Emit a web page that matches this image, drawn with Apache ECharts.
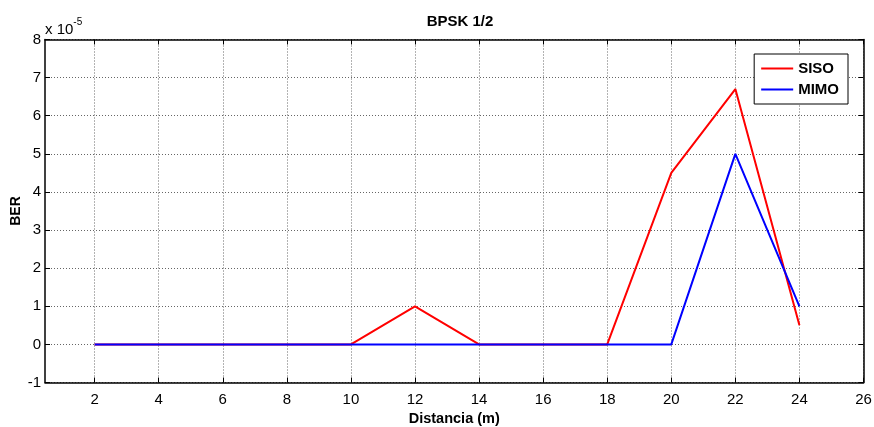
<!DOCTYPE html>
<html><head><meta charset="utf-8">
<script src="https://cdn.jsdelivr.net/npm/echarts@6/dist/echarts.min.js"></script>
<style>html,body{margin:0;padding:0;background:#fff}#c{width:874px;height:427px}</style>
</head><body><div id="c"></div>
<script>
const distances = [2,4,6,8,10,12,14,16,18,20,22,24];
const sisoBER = [0,0,0,0,0,1,0,0,0,4.5,6.7,0.5];   // x 10^-5
const mimoBER = [0,0,0,0,0,0,0,0,0,0,5,1];         // x 10^-5
const xTicks = [2,4,6,8,10,12,14,16,18,20,22,24,26];

const F = 'Liberation Sans, Arial, sans-serif';
const chart = echarts.init(document.getElementById('c'));
const gridLine = {show:true, lineStyle:{color:'#666', type:[1,2], width:1}};
chart.setOption({
  animation:false,
  title:{text:'BPSK 1/2', left:455, top:9, textAlign:'center',
    textStyle:{fontFamily:F, fontSize:15, fontWeight:'bold', color:'#000'}},
  grid:{left:45, right:10.5, top:39.5, bottom:44.5, show:false, containLabel:false, outerBoundsMode:'none'},
  legend:{right:26, top:54, orient:'vertical', itemWidth:32, itemHeight:2, itemGap:6,
    padding:[7,9,7,7], borderColor:'#000', borderWidth:1, backgroundColor:'#fff',
    icon:'rect',
    textStyle:{fontFamily:F, fontSize:15, fontWeight:'bold', color:'#000'},
    data:['SISO','MIMO']},
  xAxis:[{type:'value', min:0.45, max:26, name:'Distancia (m)', nameLocation:'middle', nameGap:29,
    nameMoveOverlap:false,
    nameTextStyle:{fontFamily:F, fontSize:14.5, fontWeight:'bold', color:'#000'},
    axisLine:{show:true, onZero:false, lineStyle:{color:'#000', width:1.5}},
    axisTick:{show:true, inside:true, length:5, customValues:xTicks, lineStyle:{color:'#000'}},
    axisLabel:{customValues:xTicks, fontFamily:F, fontSize:15, color:'#000', margin:10},
    splitLine:gridLine},
   {type:'value', position:'top', min:0.45, max:26,
    axisLine:{show:true, onZero:false, lineStyle:{color:'#000', width:1.5}},
    axisTick:{show:true, inside:true, length:5, customValues:xTicks, lineStyle:{color:'#000'}},
    axisLabel:{show:false}, splitLine:{show:false}}],
  yAxis:[{type:'value', min:-1, max:8, interval:1, name:'BER', nameLocation:'middle', nameGap:22,
    nameMoveOverlap:false,
    nameTextStyle:{fontFamily:F, fontSize:14, fontWeight:'bold', color:'#000'},
    axisLine:{show:true, onZero:false, lineStyle:{color:'#000', width:1.5}},
    axisTick:{show:true, inside:true, length:5, lineStyle:{color:'#000'}},
    axisLabel:{fontFamily:F, fontSize:15, color:'#000', margin:4},
    splitLine:gridLine},
   {type:'value', position:'right', min:-1, max:8, interval:1,
    axisLine:{show:true, onZero:false, lineStyle:{color:'#000', width:1.5}},
    axisTick:{show:true, inside:true, length:5, lineStyle:{color:'#000'}},
    axisLabel:{show:false}, splitLine:{show:false}}],
  graphic:[{type:'text', left:45, top:17, style:{text:'{a|x 10}{b|-5}', rich:{
    a:{fontFamily:F, fontSize:15, fill:'#000', verticalAlign:'bottom'},
    b:{fontFamily:F, fontSize:10, fill:'#000', verticalAlign:'top', padding:[0,0,10,0]}}}}],
  series:[
    {name:'SISO', type:'line', showSymbol:false, symbol:'none', color:'#ff0000',
     lineStyle:{width:2, color:'#ff0000'}, data:distances.map((d,i)=>[d,sisoBER[i]]), z:3},
    {name:'MIMO', type:'line', showSymbol:false, symbol:'none', color:'#0000ff',
     lineStyle:{width:2, color:'#0000ff'}, data:distances.map((d,i)=>[d,mimoBER[i]]), z:4}
  ]
});
</script></body></html>
